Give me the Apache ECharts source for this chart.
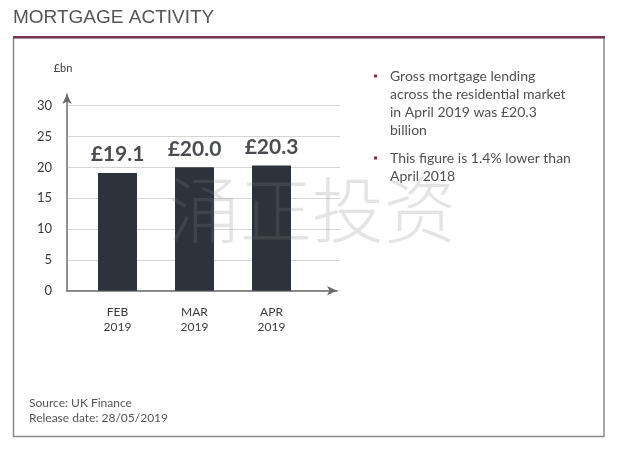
<!DOCTYPE html>
<html>
<head>
<meta charset="utf-8">
<script src="https://cdn.jsdelivr.net/npm/echarts@6/dist/echarts.min.js"></script>
<style>
html,body{margin:0;padding:0;background:#fff;}
#chart{width:623px;height:450px;}
</style>
</head>
<body>
<div id="chart"></div>
<script>
var categories = ['FEB\n2019', 'MAR\n2019', 'APR\n2019'];
var lending = [19.1, 20.0, 20.3];
var yTicks = [0, 5, 10, 15, 20, 25, 30];
var title = 'MORTGAGE ACTIVITY';
var unit = '£bn';
var bullets = [
  'Gross mortgage lending\nacross the residential market\nin April 2019 was £20.3\nbillion',
  'This figure is 1.4% lower than\nApril 2018'
];
var footer = 'Source: UK Finance\nRelease date: 28/05/2019';
var watermark = '涌正投资';

var chart = echarts.init(document.getElementById('chart'));
var axisColor = '#6b6b6b';
var textColor = '#3a3a3a';
var plotTop = 105.7, plotH = 185;

var option = {
  animation: false,
  backgroundColor: '#fff',
  grid: [
    {left: 67, top: plotTop, width: 273, height: plotH},
    {left: 67, top: 94, width: 270, height: plotTop + plotH - 94},
    {left: 79, top: plotTop, width: 231, height: plotH}
  ],
  xAxis: [
    {gridIndex: 0, type: 'value', min: 0, max: 1, show: false},
    {gridIndex: 1, type: 'value', min: 0, max: 1,
      axisLine: {show: true, lineStyle: {color: axisColor, width: 1.5}, symbol: ['none', 'arrow'], symbolSize: [7, 10]},
      axisTick: {show: false}, axisLabel: {show: false}, splitLine: {show: false}},
    {gridIndex: 2, type: 'category', data: categories,
      axisLine: {show: false}, axisTick: {show: false},
      axisLabel: {color: textColor, fontSize: 12, lineHeight: 15, margin: 14, fontFamily: 'Lato'}}
  ],
  yAxis: [
    {gridIndex: 0, type: 'value', min: yTicks[0], max: yTicks[yTicks.length - 1], interval: yTicks[1] - yTicks[0],
      axisLine: {show: false}, axisTick: {show: false},
      axisLabel: {color: textColor, fontSize: 13, margin: 15, fontFamily: 'Lato'},
      splitLine: {lineStyle: {color: '#d6d6d6', width: 1}}},
    {gridIndex: 1, type: 'value', min: 0, max: 1,
      name: unit, nameLocation: 'end', nameGap: 20,
      nameTextStyle: {color: textColor, fontSize: 11, fontFamily: 'Lato', padding: [0, 8, 0, 0]},
      axisLine: {show: true, lineStyle: {color: axisColor, width: 1.5}, symbol: ['none', 'arrow'], symbolSize: [7, 10]},
      axisTick: {show: false}, axisLabel: {show: false}, splitLine: {show: false}},
    {gridIndex: 2, type: 'value', min: yTicks[0], max: yTicks[yTicks.length - 1], show: false}
  ],
  series: [{
    type: 'bar',
    xAxisIndex: 2, yAxisIndex: 2,
    data: lending,
    barWidth: 39,
    itemStyle: {color: '#2e323a'},
    label: {
      show: true, position: 'top', distance: 8,
      formatter: function (p) { return '£' + p.value.toFixed(1); },
      color: '#4a4c51', fontSize: 21, fontWeight: 'bold', fontFamily: 'Lato'
    },
    z: 3
  }],
  graphic: [
    {type: 'text', left: 13, top: 8, style: {text: title, fill: '#555', font: '19px "Liberation Sans"'}},
    {type: 'rect', shape: {x: 13.5, y: 37.5, width: 590.5, height: 399}, style: {fill: 'none', stroke: '#8a8a8a', lineWidth: 1.5}, z: 1},
    {type: 'rect', shape: {x: 13, y: 36, width: 592, height: 2.5}, style: {fill: '#7b3347'}, z: 2},
    {type: 'rect', shape: {x: 374, y: 74.5, width: 3, height: 3}, style: {fill: '#8b2a45'}},
    {type: 'rect', shape: {x: 374, y: 156.5, width: 3, height: 3}, style: {fill: '#8b2a45'}},
    {type: 'text', x: 390, y: 67, style: {text: bullets[0], fill: '#505050', font: '14px Lato', lineHeight: 18}},
    {type: 'text', x: 390, y: 149, style: {text: bullets[1], fill: '#505050', font: '14px Lato', lineHeight: 18}},
    {type: 'text', x: 29, y: 396, style: {text: footer, fill: '#555', font: '12px Lato', lineHeight: 15}},
    {type: 'text', x: 168, y: 174, z: 100, style: {text: watermark, fill: 'rgba(130,130,130,0.22)', font: '300 72px "Noto Sans CJK SC"', letterSpacing: 2}}
  ]
};
chart.setOption(option);
</script>
</body>
</html>
